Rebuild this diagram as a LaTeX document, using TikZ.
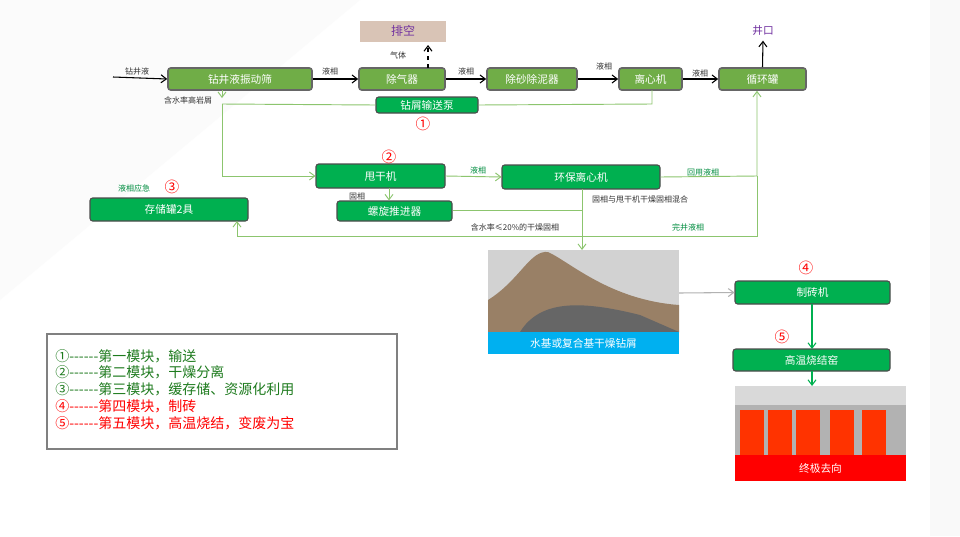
\documentclass[tikz,border=0pt]{standalone}
\usepackage{fontspec}
\setmainfont{Noto Sans CJK SC}
\usetikzlibrary{arrows.meta}
\definecolor{olive}{HTML}{70AD47}
\definecolor{bg}{HTML}{00B050}
\definecolor{lg}{HTML}{8CC56E}
\definecolor{dg}{HTML}{1E7B1E}
\tikzset{
 ob/.style={draw=gray!80!black,line width=1.2pt,fill=olive,rounded corners=2pt,text=white,font=\fontsize{8}{9}\selectfont,inner sep=0},
 gb/.style={draw=gray!60!black,line width=0.8pt,fill=bg,rounded corners=2pt,text=white,font=\fontsize{8}{9}\selectfont,inner sep=0},
 lbl/.style={font=\fontsize{6}{7}\selectfont,text=black!80},
 glbl/.style={font=\fontsize{6}{7}\selectfont,text=bg!80!black},
 num/.style={font=\fontsize{11}{12}\selectfont,text=red},
 ar/.style={-{Straight Barb[length=4pt,width=6pt]},line width=0.8pt},
 gl/.style={draw=lg,line width=0.7pt},
 gar/.style={gl,-{Straight Barb[length=4pt,width=6pt]}},
}
\newcommand{\bx}[6]{\node[#1,minimum width={(#4-#3)*0.75pt},minimum height={(#6-#5)*0.75pt}] (#2) at ({(#3+#4)/2},{(#5+#6)/2})}
\newcommand{\dsh}{-\/-\/-\/-\/-\/-}
\begin{document}
\begin{tikzpicture}[x=0.75pt,y=-0.75pt]
\useasboundingbox (0,0) rectangle (960,536);
\fill[white] (0,0) rectangle (960,536);
\fill[gray!3] (0,0) -- (360,0) -- (0,300) -- cycle;
\fill[gray!5] (930,0) rectangle (960,536);
% top row
\bx{ob}{s}{168}{312}{68}{90} {钻井液振动筛};
\bx{ob}{d}{359}{445}{68}{90} {除气器};
\bx{ob}{ds}{487}{577}{68}{90} {除砂除泥器};
\bx{ob}{c}{619}{682}{68}{90} {离心机};
\bx{ob}{t}{719}{806}{68}{90} {循环罐};
\node[fill={rgb,255:red,217;green,196;blue,182},minimum width={86*0.75pt},minimum height={21*0.75pt},text={rgb,255:red,112;green,48;blue,160},font=\fontsize{9}{10}\selectfont,inner sep=0] (p) at (403,31) {排空};
\node[text={rgb,255:red,112;green,48;blue,160},font=\fontsize{8}{9}\selectfont] (jk) at (763,31) {井口};
\coordinate (in) at (113,77);
\draw[ar] (in) -- (s.west);
\node[lbl] at (137,71) {钻井液};
\draw[ar] (s.east) -- (d.west); \node[lbl] at (330,71) {液相};
\draw[ar] (d.east) -- (ds.west); \node[lbl] at (466,71) {液相};
\draw[ar] (ds.east) -- (c.west); \node[lbl] at (604,66) {液相};
\draw[ar] (c.east) -- (t.west); \node[lbl] at (700,73) {液相};
\draw[ar,dashed] (428,68) -- (428,45); \node[lbl] at (398,55) {气体};
\draw[ar] (t.north) -- (jk.south);
% pump line
\bx{gb}{pm}{376}{478}{97}{113} {钻屑输送泵};
\node[num] at (423,124) {①};
\draw[gl] (222,104) -- (pm.west);
\draw[gl] (pm.east) -- (652,104) -- (652,90);
\draw[gar] (222,90) -- (222,98);
\node[lbl] at (188,100) {含水率高岩屑};
% second row
\bx{gb}{g}{316}{445}{164}{188} {甩干机};
\node[num] at (389,157) {②};
\bx{gb}{h}{502}{660}{165}{189} {环保离心机};
\bx{gb}{st}{90}{248}{198}{221} {存储罐2具};
\node[num] at (172,187) {③};
\node[glbl] at (134,188) {液相应急};
\bx{gb}{lx}{337}{452}{201}{221} {螺旋推进器};
\draw[gar] (222,104) -- (222,176) -- (g.west);
\draw[gar] (g.east) -- (h.west); \node[glbl] at (478,170) {液相};
\draw[gar] (h.east) -- (757,176) -- (t.south -| 757,90);
\node[glbl] at (703,172) {回用液相};
\draw[gar] (389,188) -- (lx.north -| 389,201); \node[lbl] at (357,196) {固相};
\draw[gl] (lx.east |- 0,210) -- (582,210);
\node[lbl] at (640,199) {固相与甩干机干燥固相混合};
\node[lbl] at (515,227) {含水率≤20\%的干燥固相};
\draw[gl] (757,176) -- (757,236) -- (237,236);
\draw[gar] (237,236) -- (237,221);
\node[glbl] at (688,227) {完井液相};
% photo 1
\fill[gray!35] (488,250) rectangle (679,332);
\fill[brown!40!gray] (488,332) -- (488,300) .. controls (520,280) and (530,250) .. (548,252) .. controls (570,262) and (610,300) .. (679,305) -- (679,332) -- cycle;
\fill[black!60] (520,332) .. controls (540,300) and (580,300) .. (640,315) -- (679,332) -- cycle;
\node[fill={rgb,255:red,0;green,176;blue,240},minimum width={191*0.75pt},minimum height={22*0.75pt},text=white,font=\fontsize{8}{9}\selectfont,inner sep=0] (ph1) at (583.5,343) {水基或复合基干燥钻屑};
\draw[gar] (582,189) -- (582,250);
% right column
\bx{gb}{zz}{735}{890}{281}{304} {制砖机};
\node[num] at (806,268) {④};
\draw[-{Straight Barb[length=4pt,width=6pt]},draw=gray!60,line width=0.8pt] (679,293) -- (zz.west);
\node[num] at (782,337) {⑤};
\bx{gb}{yao}{733}{890}{349}{371} {高温烧结窑};
\draw[ar,draw=bg] (812,304) -- (812,349);
% photo 2
\fill[gray!60] (735,386) rectangle (906,455);
\fill[gray!30] (735,386) rectangle (906,405);
\foreach \xx in {740,768,796,830,862}{\fill[red!60!orange] (\xx,410) rectangle ++(24,45);}
\node[fill=red,minimum width={171*0.75pt},minimum height={26*0.75pt},text=white,font=\fontsize{8}{9}\selectfont,inner sep=0] (ph2) at (820.5,468) {终极去向};
\draw[ar,draw=bg] (812,371) -- (812,386);
% legend
\draw[gray,line width=0.8pt] (47,334) rectangle (397,449);
\begin{scope}[every node/.style={anchor=west,font=\fontsize{10.5}{11}\selectfont,inner sep=0}]
\node[text=dg] at (55,356) {①\dsh 第一模块，输送};
\node[text=dg] at (55,372) {②\dsh 第二模块，干燥分离};
\node[text=dg] at (55,389) {③\dsh 第三模块，缓存储、资源化利用};
\node[text=red] at (55,406) {④\dsh 第四模块，制砖};
\node[text=red] at (55,423) {⑤\dsh 第五模块，高温烧结，变废为宝};
\end{scope}
\end{tikzpicture}
\end{document}
